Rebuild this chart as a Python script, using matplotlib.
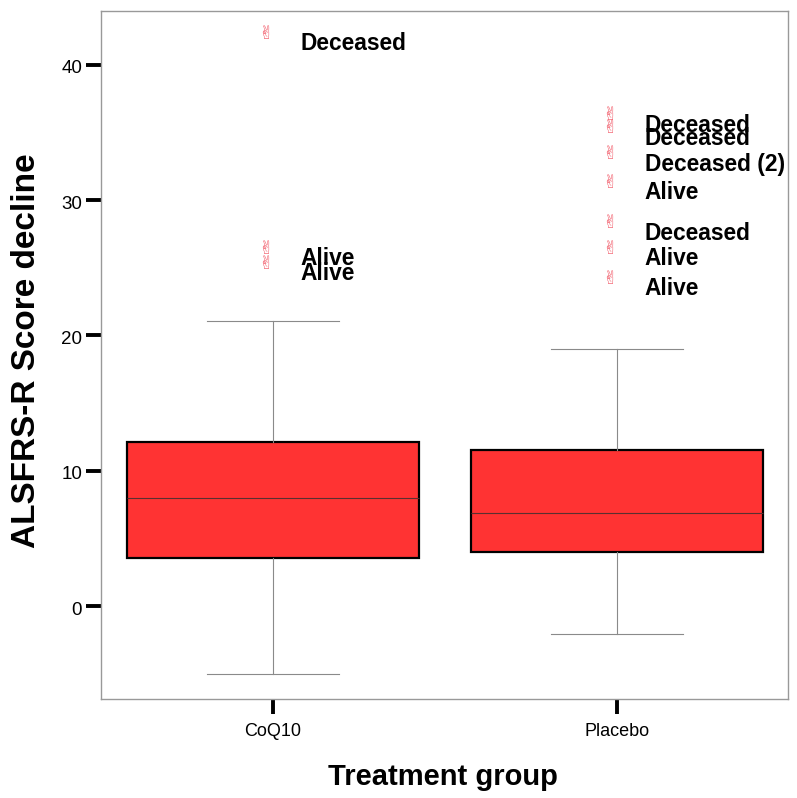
import matplotlib
matplotlib.use("Agg")
import matplotlib.pyplot as plt
from matplotlib.transforms import ScaledTranslation

plt.rcParams['font.family'] = ['Liberation Sans', 'DejaVu Sans']

groups = ["CoQ10", "Placebo"]
positions = [0, 1]
whisker_low = [-5, -2.1]
q1 = [3.55, 4.0]
medians = [8.0, 6.9]
q3 = [12.1, 11.5]
whisker_high = [21.05, 19.0]

# outliers: group index, value, label value, label
out_group = [0, 0, 0, 1, 1, 1, 1, 1, 1, 1]
out_value = [42.4, 26.5, 25.4, 36.4, 35.4, 33.5, 31.4, 28.4, 26.5, 24.3]
out_label = ["Deceased", "Alive", "Alive", "Deceased", "Deceased", "Deceased (2)",
             "Alive", "Deceased", "Alive", "Alive"]

fig = plt.figure(figsize=(7.97, 7.98), dpi=100)
ax = fig.add_axes([101/797, 1-699/798, (788-101)/797, (699-11)/798])

stats = []
for i in range(len(groups)):
    stats.append(dict(label=groups[i], whislo=whisker_low[i], q1=q1[i], med=medians[i],
                      q3=q3[i], whishi=whisker_high[i], fliers=[]))
ax.bxp(stats, positions=positions, widths=0.85, patch_artist=True, showfliers=False,
       boxprops=dict(facecolor='#ff3333', edgecolor='black', linewidth=1.6),
       medianprops=dict(color='#5a3030', linewidth=0.8),
       whiskerprops=dict(color='#8a8a8a', linewidth=0.8),
       capprops=dict(color='#8a8a8a', linewidth=0.8),
       capwidths=0.384)

for g, v, lab in zip(out_group, out_value, out_label):
    ax.annotate("\u270c", (positions[g], v), xytext=(-5, -1), textcoords='offset points',
                color='#f2606e', fontsize=13, ha='center', va='center',
                family=['DejaVu Sans'])
    ax.annotate(lab, (positions[g], v), xytext=(19.8, -8.3), textcoords='offset points',
                fontsize=16.4, fontweight='bold', ha='left', va='center', color='black')

ax.set_xlim(-0.5, 1.497)
ax.set_ylim(-6.88, 43.98)
ax.set_yticks([0, 10, 20, 30, 40])
ax.set_xticks(positions)
ax.set_xticklabels(groups)
ax.tick_params(axis='y', length=10.5, width=2.8, color='black', labelsize=13.5, pad=3)
ax.tick_params(axis='x', length=10.5, width=2.8, color='black', labelsize=13, pad=7)
# tick labels sit a little under their ticks in the original
for t in ax.get_yticklabels():
    t.set_transform(t.get_transform() + ScaledTranslation(0, -1.5/72, fig.dpi_scale_trans))
for s in ax.spines.values():
    s.set_color('#999999')
    s.set_linewidth(1)
ax.set_xlabel("Treatment group", fontsize=21, fontweight='bold', labelpad=16)
ax.set_ylabel("ALSFRS-R Score decline", fontsize=24, fontweight='bold', labelpad=14)
ax.xaxis.label.set_x(0.498)
ax.yaxis.label.set_y(0.506)

fig.savefig("out.png", dpi=100)
